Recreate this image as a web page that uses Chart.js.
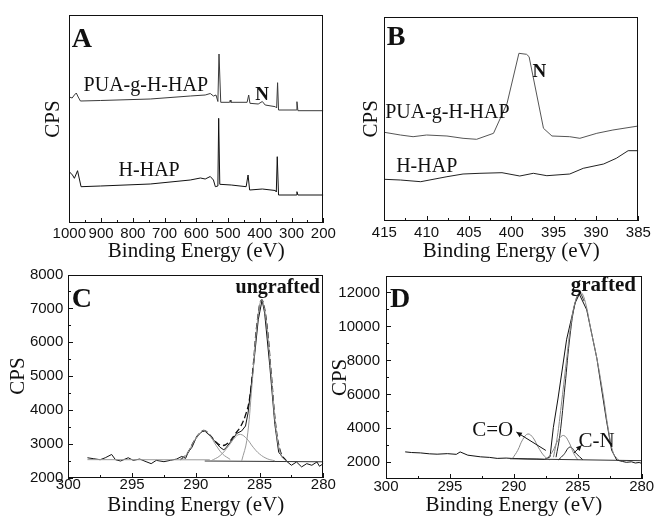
<!DOCTYPE html>
<html><head><meta charset="utf-8">
<script src="https://cdn.jsdelivr.net/npm/chart.js@4.4.0/dist/chart.umd.min.js"></script>
<style>
html,body{margin:0;padding:0;background:#fff;overflow:hidden;width:654px;height:519px;position:relative;}
canvas{position:absolute;}
</style></head><body>
<canvas id="cA" width="345" height="262" style="left:0;top:0"></canvas>
<canvas id="cB" width="327" height="262" style="left:327px;top:0"></canvas>
<canvas id="cC" width="345" height="257" style="left:0;top:262px"></canvas>
<canvas id="cD" width="336" height="257" style="left:320px;top:262px"></canvas>
<script>
// ---------- Panel A : survey spectra (arbitrary CPS units) ----------
const aTicks = [1000, 900, 800, 700, 600, 500, 400, 300, 200];
const aPuaE = [1000,991,984,978,972,965,902,745,619,572,556,546,538,532,528.5,523,495,493,491,440,435,431,405,392,383,351,347,344,341,285,283,280,200];
const aPuaCps = [126,125,128,130,126,122,122.5,124,127,128,129.5,127,128,121.5,169,120.7,120.7,123,120.7,120.7,128,119.7,119,121.5,118,116.3,115,140.3,113,113,121.3,112.3,112.3];
const aHhapE = [1000,990,984,974,963,902,745,619,587,572,556,546,540,532,529.5,526,490,443,437,432,392,351,348,345,341,285,283,280,200];
const aHhapCps = [51.3,48,44.7,52.3,36.3,37,39,43,45,44,46.5,43,36.3,37,104.7,38.7,38,36.3,48,33,34,32.5,31,66.3,28,28,31.3,28,28];

// ---------- Panel B : N 1s region ----------
const bTicks = [415, 410, 405, 400, 395, 390, 385];
const bPuaE = [415,413.1,411.6,410,407.6,405.7,404.1,402.1,400.5,399.1,398.2,397.9,396.2,395.2,393.1,391.9,389.9,388,385];
const bPuaCps = [88.7,86,84.3,86,85,82.7,81.7,87.7,117.7,167.7,166.7,164.3,92.7,85,84.3,82.7,87.7,91,95];
const bHhapE = [415,413.1,410.7,407.6,405.7,403.7,401.1,399,397.4,395.8,393.1,391.5,389.1,387.6,386.2,385];
const bHhapCps = [41.7,41,39.3,44.3,47,47.7,48.3,45,47.7,45.3,47,52.7,57,62.7,70.3,70.3];

// ---------- Panel C : C 1s ungrafted ----------
const cTicksX = [300, 295, 290, 285, 280];
const cTicksY = [2000, 3000, 4000, 5000, 6000, 7000, 8000];
const cRawE = [298.5,298.0,297.5,297.1,296.6,296.3,295.9,295.3,294.9,294.4,293.9,293.5,293.1,292.5,292.0,291.5,291.1,290.8,290.6,290.3,289.9,289.5,289.3,288.9,288.5,288.1,287.8,287.6,287.2,286.8,286.4,286.1,285.9,285.5,285.1,284.8,284.6,284.2,283.8,283.5,283.1,282.9,282.5,282.1,281.7,281.3,280.9,280.5,280.3,280.0];
const cRawCps = [2589,2560,2531,2589,2686,2531,2493,2589,2512,2551,2473,2415,2512,2473,2512,2551,2628,2570,2754,2899,3237,3362,3382,3237,3072,2899,2821,2899,3092,3304,3382,3527,3913,5217,6667,7246,6860,5314,3575,2754,2560,2493,2367,2464,2319,2415,2367,2464,2338,2415];
const cEnvE = [291.2,290.7,290.1,289.6,289.3,288.9,288.4,287.9,287.4,286.9,286.5,286.1,285.8,285.5,285.2,284.85,284.5,284.1,283.7,283.3,282.9];
const cEnvCps = [2530,2700,3100,3350,3390,3260,3050,2950,3050,3300,3500,3850,4300,5300,6550,7250,6750,5150,3450,2700,2500];
const cPk1E = [291.2,290.7,290.1,289.6,289.3,288.9,288.4,287.9,287.3];
const cPk1Cps = [2530,2700,3100,3350,3390,3250,2950,2700,2540];
const cPk2E = [288.8,288.1,287.4,286.9,286.5,286.0,285.5,285.0,284.4,283.8];
const cPk2Cps = [2500,2650,2950,3200,3280,3150,2900,2700,2560,2500];
const cPk3E = [286.4,286.0,285.6,285.2,284.85,284.5,284.1,283.7,283.3,282.9];
const cPk3Cps = [2500,3100,4700,6500,7250,6700,5100,3400,2650,2490];
const cBaseE = [298.5, 288.9];
const cBaseCps = [2533, 2528];
const cBase2E = [289.3, 280];
const cBase2Cps = [2493, 2470];

// ---------- Panel D : C 1s grafted ----------
const dTicksX = [300, 295, 290, 285, 280];
const dTicksY = [2000, 4000, 6000, 8000, 10000, 12000];
const dRawE = [298.5,298.0,297.3,296.6,296.0,295.2,294.5,294.2,293.6,292.6,291.9,291.3,290.6,290.2,289.6,288.9,288.2,287.6,287.17,286.91,286.54,285.87,285.22,284.88,284.3,283.5,282.75,282.35,281.95,281.5,281.2,280.8,280.5,280.2,280.0];
const dRawCps = [2615,2577,2554,2500,2479,2510,2470,2612,2420,2323,2290,2231,2250,2231,2220,2200,2190,2170,2323,4054,5785,9247,11365,11900,10980,8093,4440,2710,2133,2050,2000,2030,1960,1990,1940];
const dMainE = [286.9,286.6,286.3,285.9,285.5,285.1,284.75,284.4,284.0,283.5,283.0,282.6,282.2,281.8];
const dMainCps = [2300,3500,5300,7900,10300,11700,12000,11400,9900,8093,5900,3900,2500,2133];
const dInnerE = [286.7,286.4,286.0,285.6,285.2,284.85,284.5];
const dInnerCps = [2300,3600,6500,9500,11400,11950,11500];
const dCoE = [290.1,289.7,289.3,288.9,288.5,288.1,287.6,287.2];
const dCoCps = [2231,2700,3350,3670,3450,2900,2350,2150];
const dPk2E = [287.5,287.0,286.5,286.1,285.7,285.3,285.0];
const dPk2Cps = [2150,2600,3350,3580,3200,2500,2150];
const dCnE = [286.5,286.1,285.6,285.1,284.6];
const dCnCps = [2150,2450,2900,2500,2150];
const dBaseE = [290.3, 280];
const dBaseCps = [2210, 2096];

const SERIF = '"Liberation Serif", "Times New Roman", serif';
const SANS = '"Liberation Sans", Arial, sans-serif';

function line(xs, ys, color, extra) {
  return Object.assign({
    data: xs.map((x, i) => ({x: x, y: ys[i]})),
    borderColor: color, borderWidth: 1, pointRadius: 0, fill: false, tension: 0
  }, extra || {});
}

function mids(vals) {
  const s = vals.slice().sort((a, b) => a - b), out = [];
  for (let i = 0; i < s.length - 1; i++) out.push((s[i] + s[i + 1]) / 2);
  return out;
}

const framePlugin = {
  id: 'frame',
  afterDraw(chart, args, o) {
    const ctx = chart.ctx, ca = chart.chartArea, xs = chart.scales.x, ys = chart.scales.y;
    ctx.save();
    ctx.strokeStyle = '#111'; ctx.lineWidth = 1;
    const L = Math.round(ca.left), R = Math.round(ca.right), T = Math.round(ca.top), B = Math.round(ca.bottom);
    ctx.strokeRect(L + 0.5, T + 0.5, R - L - 1, B - T - 1);
    const tk = (scale, vals, len, horiz) => {
      for (let i = 0; i < vals.length; i++) {
        const p = Math.round(scale.getPixelForValue(vals[i])) + 0.5;
        ctx.beginPath();
        if (horiz) { ctx.moveTo(p, B); ctx.lineTo(p, B - len); }
        else { ctx.moveTo(L, p); ctx.lineTo(L + len, p); }
        ctx.stroke();
      }
    };
    const xv = xs.ticks.map(t => t.value);
    tk(xs, xv, 5, true); tk(xs, mids(xv), 3, true);
    if (o.yTickMarks) {
      const yv = ys.ticks.map(t => t.value);
      tk(ys, yv, 5, false); tk(ys, mids(yv), 3, false);
    }
    ctx.fillStyle = '#111';
    (o.texts || []).forEach(t => {
      ctx.font = t.font; ctx.textAlign = t.align || 'left'; ctx.textBaseline = 'alphabetic';
      const px = t.px != null ? ca.left + t.px : xs.getPixelForValue(t.x);
      const py = t.py != null ? ca.top + t.py : ys.getPixelForValue(t.y);
      ctx.fillText(t.text, px, py);
    });
    (o.arrows || []).forEach(a => {
      const x1 = xs.getPixelForValue(a.from[0]), y1 = ys.getPixelForValue(a.from[1]);
      const x2 = xs.getPixelForValue(a.to[0]), y2 = ys.getPixelForValue(a.to[1]);
      ctx.beginPath(); ctx.moveTo(x1, y1); ctx.lineTo(x2, y2); ctx.stroke();
      const ang = Math.atan2(y2 - y1, x2 - x1), h = 6;
      ctx.beginPath();
      ctx.moveTo(x2, y2);
      ctx.lineTo(x2 - h * Math.cos(ang - 0.45), y2 - h * Math.sin(ang - 0.45));
      ctx.lineTo(x2 - h * Math.cos(ang + 0.45), y2 - h * Math.sin(ang + 0.45));
      ctx.closePath(); ctx.fill();
    });
    ctx.restore();
  }
};

function panel(id, c) {
  const xt = c.xTicks.slice().sort((a, b) => a - b);
  const yScale = {
    type: 'linear', min: c.yMin, max: c.yMax,
    afterFit: s => { s.width = c.yW; },
    grid: {display: false, drawTicks: false},
    border: {display: false},
    ticks: {display: !!c.yTicks, padding: c.yPad || 5, color: '#111',
      font: {family: SANS, size: 15, lineHeight: 1},
      callback: v => String(v)},
    title: {display: true, text: 'CPS', color: '#111',
      font: {family: SERIF, size: 21, lineHeight: 1}, padding: {top: c.yTitlePad, bottom: 0}}
  };
  if (c.yTicks) {
    const yt = c.yTicks.slice().sort((a, b) => a - b);
    yScale.afterBuildTicks = s => { s.ticks = yt.map(v => ({value: v})); };
  }
  return new Chart(document.getElementById(id), {
    type: 'line',
    data: {datasets: c.datasets},
    options: {
      responsive: false, animation: false, devicePixelRatio: 1,
      layout: {padding: {top: c.padTop, right: c.padRight, left: 0, bottom: 0}},
      plugins: {legend: {display: false}, tooltip: {enabled: false}, frame: c.frame},
      scales: {
        x: {
          type: 'linear', reverse: true, min: c.xMin, max: c.xMax,
          afterBuildTicks: s => { s.ticks = xt.map(v => ({value: v})); },
          afterFit: s => { s.height = c.xH; },
          grid: {display: false, drawTicks: false},
          border: {display: false},
          ticks: {autoSkip: false, maxRotation: 0, minRotation: 0, padding: c.xPad, color: '#111',
            font: {family: SANS, size: 15, lineHeight: 1}, callback: v => String(v)},
          title: {display: true, text: 'Binding Energy (eV)', color: '#111',
            font: {family: SERIF, size: 21, lineHeight: 1}, padding: {top: 0, bottom: c.xTitlePad}}
        },
        y: yScale
      }
    },
    plugins: [framePlugin]
  });
}

const F20 = '20px ' + SERIF, F21 = '21px ' + SERIF;
const LET = 'bold 28px ' + SERIF;

panel('cA', {
  xMin: 200, xMax: 1000, yMin: 0, yMax: 208, xTicks: aTicks,
  padTop: 15, padRight: 21.7, yW: 69.3, xH: 39, xPad: 3, xTitlePad: 0.5, yTitlePad: 42.8,
  datasets: [
    line(aPuaE, aPuaCps, '#3a3a3a'),
    line(aHhapE, aHhapCps, '#111')
  ],
  frame: {
    yTickMarks: false,
    texts: [
      {text: 'A', px: 2.4, py: 31.7, font: LET},
      {text: 'PUA-g-H-HAP', x: 955, y: 132.3, font: F20},
      {text: 'H-HAP', x: 844.7, y: 47.3, font: F20},
      {text: 'N', x: 393, y: 123, align: 'center', font: 'bold 19px ' + SERIF}
    ]
  }
});

panel('cB', {
  xMin: 385, xMax: 415, yMin: 0, yMax: 204.3, xTicks: bTicks,
  padTop: 16.7, padRight: 15.7, yW: 57.3, xH: 41, xPad: 4, xTitlePad: 0.5, yTitlePad: 34.2,
  datasets: [
    line(bPuaE, bPuaCps, '#555'),
    line(bHhapE, bHhapCps, '#222')
  ],
  frame: {
    yTickMarks: false,
    texts: [
      {text: 'B', px: 2.4, py: 28.3, font: LET},
      {text: 'PUA-g-H-HAP', x: 414.9, y: 102.7, font: F20},
      {text: 'H-HAP', x: 413.6, y: 49.3, font: F20},
      {text: 'N', x: 396.7, y: 144.3, align: 'center', font: 'bold 19px ' + SERIF}
    ]
  }
});

panel('cC', {
  xMin: 280, xMax: 300, yMin: 2000, yMax: 8000, xTicks: cTicksX, yTicks: cTicksY,
  padTop: 8.7, padRight: 21.7, yW: 68.3, xH: 41.3, xPad: 0, xTitlePad: 3.5, yTitlePad: 7.8, yPad: 5,
  datasets: [
    line(cBaseE, cBaseCps, '#999'),
    line(cPk1E, cPk1Cps, '#999', {tension: 0.4}),
    line(cPk2E, cPk2Cps, '#999', {tension: 0.4}),
    line(cPk3E, cPk3Cps, '#999', {tension: 0.4}),
    line(cBase2E, cBase2Cps, '#333'),
    line(cRawE, cRawCps, '#111'),
    line(cEnvE, cEnvCps, '#111', {tension: 0.4, borderDash: [6, 3], borderWidth: 1.3})
  ],
  frame: {
    yTickMarks: true,
    texts: [
      {text: 'C', px: 3.4, py: 32.6, font: LET},
      {text: 'ungrafted', x: 280.26, y: 7441, align: 'right', font: 'bold 20px ' + SERIF}
    ]
  }
});

panel('cD', {
  xMin: 280, xMax: 300, yMin: 1000, yMax: 13000, xTicks: dTicksX, yTicks: dTicksY,
  padTop: 9.7, padRight: 14.3, yW: 66, xH: 39.7, xPad: 0, xTitlePad: 3.5, yTitlePad: 9.5, yPad: 6,
  datasets: [
    line(dBaseE, dBaseCps, '#333'),
    line(dCoE, dCoCps, '#888', {tension: 0.4}),
    line(dPk2E, dPk2Cps, '#888', {tension: 0.4}),
    line(dMainE, dMainCps, '#888', {tension: 0.4}),
    line(dCnE, dCnCps, '#222', {tension: 0.4}),
    line(dInnerE, dInnerCps, '#222', {tension: 0.4}),
    line(dRawE, dRawCps, '#111')
  ],
  frame: {
    yTickMarks: true,
    texts: [
      {text: 'D', px: 4, py: 31.6, font: LET},
      {text: 'grafted', x: 280.45, y: 12100, align: 'right', font: 'bold 21px ' + SERIF},
      {text: 'C=O', x: 291.65, y: 3575, align: 'center', font: F21},
      {text: 'C-N', x: 283.52, y: 2900, align: 'center', font: F21}
    ],
    arrows: [
      {from: [287.5, 2700], to: [289.8, 3780]},
      {from: [285.3, 2550], to: [284.7, 3000]}
    ]
  }
});
</script>
</body></html>
